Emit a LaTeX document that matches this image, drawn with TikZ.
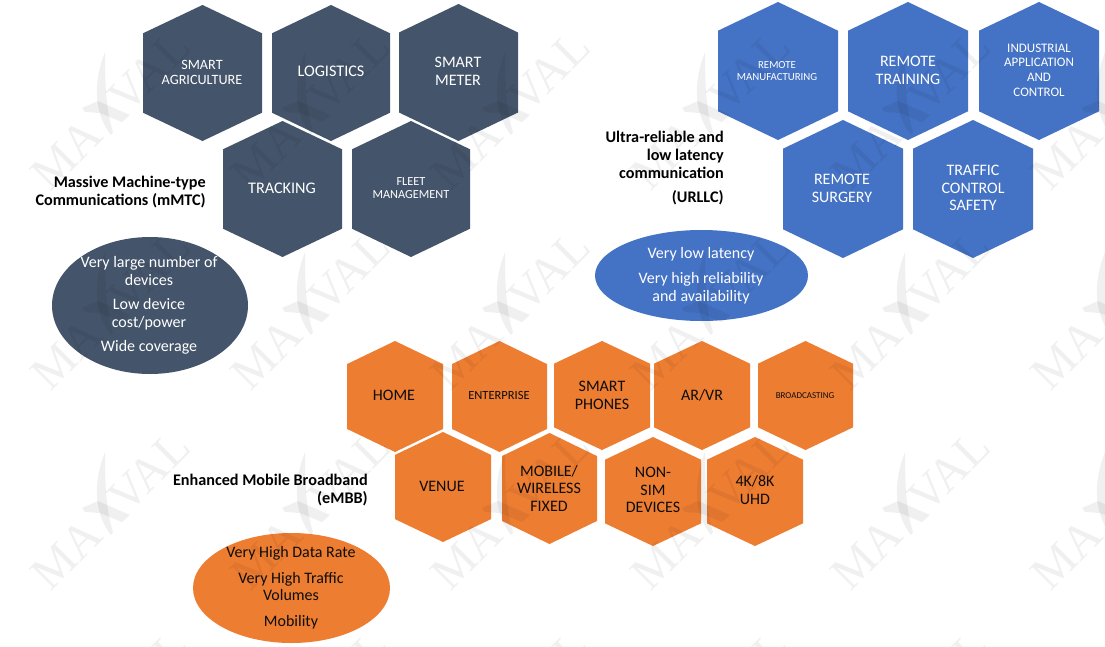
\documentclass[tikz,border=0pt]{standalone}
\usepackage{fontspec}
\setmainfont{Carlito}
\newfontfamily\wmfont{Liberation Serif}
\usetikzlibrary{shapes.geometric}
\definecolor{mmtc}{HTML}{44546A}
\definecolor{urllc}{HTML}{4472C4}
\definecolor{embb}{HTML}{ED7D31}
\pgfdeclarelayer{bg}
\pgfdeclarelayer{wm}
\pgfsetlayers{bg,wm,main}
\newcommand{\setpx}[2]{\fontsize{\dimexpr#1pt*3/4\relax}{\dimexpr#2pt*3/4\relax}\selectfont}
% \hexcell{name}{left}{right}{top}{bottom}{colour}
\newcommand{\hexcell}[6]{%
  \begin{pgfonlayer}{bg}
    \pgfmathsetmacro{\hcx}{(#2+#3)/2}
    \pgfmathsetmacro{\hcs}{0.208*(#5-#4)}
    \fill[#6] (\hcx,#4) -- (#3,#4+\hcs) -- (#3,#5-\hcs) -- (\hcx,#5) -- (#2,#5-\hcs) -- (#2,#4+\hcs) -- cycle;
  \end{pgfonlayer}}
\newcommand{\wmtile}[2]{%
  \begin{scope}[shift={(#1,#2)}]
    \node[wmtext,anchor=base west] at (50,193) {MA};
    \node[wmtext,anchor=base east] at (193,50) {VAL};
    \fill[black,opacity=0.06] (105,52) .. controls (92,85) and (95,115) .. (111,135) -- (113,132) .. controls (106,110) and (105,85) .. (105,52) -- cycle;
    \fill[black,opacity=0.06] (82,108) -- (98,101) -- (130,115) -- (122,122) -- (100,113) -- (85,112) -- cycle;
  \end{scope}}
\tikzset{
  wmtext/.style={inner sep=0pt,rotate=45,text=black,text opacity=0.06,font=\wmfont\setpx{48}{48}},
  wt/.style={text=white,align=center,inner sep=0pt},
  dk/.style={text=black!95,align=center,inner sep=0pt},
  head/.style={text=black,align=right,inner sep=0pt,anchor=east,font=\bfseries\setpx{16.2}{18}},
  bubble/.style={ellipse,inner sep=0pt,draw=none}
}
\begin{document}
\begin{tikzpicture}[x=0.75pt,y=-0.75pt]
\useasboundingbox (0,0) rectangle (1105,646);
\begin{pgfonlayer}{bg}
\fill[white] (0,0) rectangle (1105,646);
\node[bubble,fill=mmtc,minimum width=147pt,minimum height=102.75pt] (mmtcb) at (150,305.5) {};
\node[bubble,fill=urllc,minimum width=159.75pt,minimum height=68.25pt] (urllcb) at (701.5,275.5) {};
\node[bubble,fill=embb,minimum width=147.75pt,minimum height=82.5pt] (embbb) at (291.5,588) {};
\end{pgfonlayer}
\begin{pgfonlayer}{wm}
\foreach \tx in {0,200,400,600,800,1000}{\foreach \ty in {0,200,400,600}{\wmtile{\tx}{\ty}}}
\end{pgfonlayer}
% mMTC
\hexcell{a1}{143}{262}{5}{141}{mmtc}
\hexcell{a2}{272}{390}{5}{141}{mmtc}
\hexcell{a3}{399}{518}{4}{141}{mmtc}
\hexcell{a4}{223}{342}{121}{257}{mmtc}
\hexcell{a5}{352}{470}{121}{257}{mmtc}
\node[wt,font=\setpx{14.2}{15}] (ta1) at (202,72) {SMART\\AGRICULTURE};
\node[wt,font=\setpx{16.2}{18}] (ta2) at (331,71.3) {LOGISTICS};
\node[wt,font=\setpx{16}{18}] (ta3) at (458,71) {SMART\\METER};
\node[wt,font=\setpx{16.2}{18}] (ta4) at (282,188.3) {TRACKING};
\node[wt,font=\setpx{12.3}{13}] (ta5) at (411,188) {FLEET\\MANAGEMENT};
\node[head] (ha) at (206,192) {Massive Machine-type\\Communications (mMTC)};
\node[wt,font=\setpx{16}{18}] (ea) at (149,305) {Very large number of\\devices\\[4.5pt]Low device\\cost/power\\[4.5pt]Wide coverage};
% URLLC
\hexcell{b1}{718}{838}{2}{140}{urllc}
\hexcell{b2}{848}{968}{2}{140}{urllc}
\hexcell{b3}{979}{1099}{2}{140}{urllc}
\hexcell{b4}{783}{903}{120}{258}{urllc}
\hexcell{b5}{913}{1033}{120}{258}{urllc}
\node[wt,font=\setpx{10.8}{12}] (tb1) at (777,71) {REMOTE\\MANUFACTURING};
\node[wt,font=\setpx{16}{18}] (tb2) at (908,70) {REMOTE\\TRAINING};
\node[wt,font=\setpx{13}{14.7}] (tb3) at (1039,70) {INDUSTRIAL\\APPLICATION\\AND\\CONTROL};
\node[wt,font=\setpx{16}{18}] (tb4) at (842,188) {REMOTE\\SURGERY};
\node[wt,font=\setpx{16}{17.5}] (tb5) at (973,188) {TRAFFIC\\CONTROL\\SAFETY};
\node[head,align=right] (hb) at (724,168) {Ultra-reliable and\\low latency\\communication\\[5pt](URLLC)};
\node[wt,font=\setpx{16}{17.5}] (eb) at (701,275.5) {Very low latency\\[6pt]Very high reliability\\and availability};
% eMBB
\hexcell{c1}{347}{443}{341}{452}{embb}
\hexcell{c2}{452}{547}{341}{452}{embb}
\hexcell{c3}{554}{650}{341}{450}{embb}
\hexcell{c4}{654}{750}{341}{450}{embb}
\hexcell{c5}{758}{853}{341}{450}{embb}
\hexcell{c6}{395}{491}{432}{542}{embb}
\hexcell{c7}{502}{597}{433}{544}{embb}
\hexcell{c8}{605}{701}{437}{546}{embb}
\hexcell{c9}{707}{803}{437}{546}{embb}
\node[dk,font=\setpx{16}{18}] (tc1) at (394,395) {HOME};
\node[dk,font=\setpx{12.5}{14}] (tc2) at (499,395) {ENTERPRISE};
\node[dk,font=\setpx{16}{18}] (tc3) at (602,395) {SMART\\PHONES};
\node[dk,font=\setpx{16}{18}] (tc4) at (702,395) {AR/VR};
\node[dk,font=\setpx{9}{11}] (tc5) at (805,396) {BROADCASTING};
\node[dk,font=\setpx{16}{18}] (tc6) at (442,486) {VENUE};
\node[dk,font=\setpx{16}{17.5}] (tc7) at (549,488) {MOBILE/\\WIRELESS\\FIXED};
\node[dk,font=\setpx{16}{17.5}] (tc8) at (653,490) {NON-\\SIM\\DEVICES};
\node[dk,font=\setpx{16}{18}] (tc9) at (755,490) {4K/8K\\UHD};
\node[head] (hc) at (368,490) {Enhanced Mobile Broadband\\(eMBB)};
\node[dk,font=\setpx{16}{17.5}] (ec) at (291,587.5) {Very High Data Rate\\[6pt]Very High Traffic\\Volumes\\[6pt]Mobility};
\end{tikzpicture}
\end{document}
